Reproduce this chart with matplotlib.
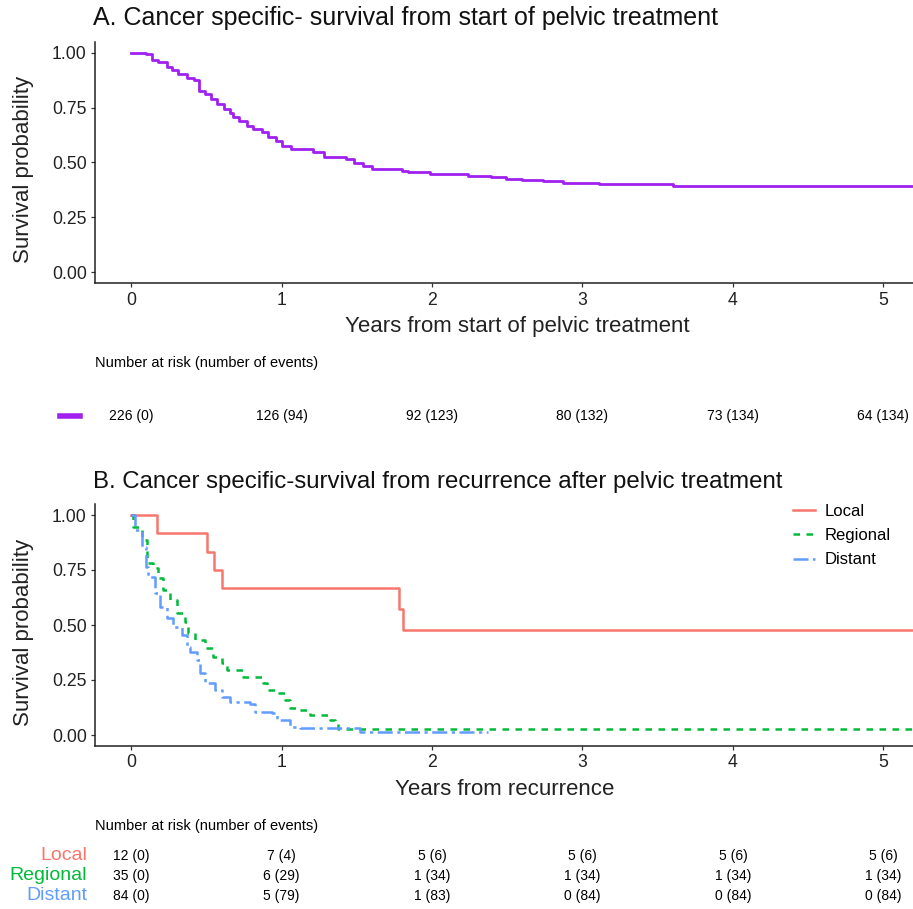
import matplotlib
matplotlib.use("Agg")
import matplotlib.pyplot as plt
import matplotlib.transforms as mtransforms

plt.rcParams["font.family"] = ["Liberation Sans", "DejaVu Sans"]

# ---- Panel A: survival from start of pelvic treatment ----
t_a = [0, 0.10, 0.14, 0.18, 0.24, 0.27, 0.31, 0.37, 0.42, 0.45, 0.49, 0.53, 0.57,
       0.62, 0.66, 0.68, 0.72, 0.77, 0.81, 0.87, 0.91, 0.96, 1.00, 1.06, 1.21, 1.28,
       1.43, 1.48, 1.54, 1.60, 1.80, 1.84, 1.99, 2.24, 2.39, 2.49, 2.60, 2.74, 2.87,
       3.11, 3.60, 5.40]
s_a = [1.0, 0.995, 0.966, 0.957, 0.936, 0.920, 0.905, 0.886, 0.876, 0.826, 0.811,
       0.788, 0.765, 0.742, 0.727, 0.705, 0.690, 0.667, 0.652, 0.641, 0.614, 0.599,
       0.576, 0.561, 0.546, 0.527, 0.515, 0.496, 0.485, 0.470, 0.462, 0.455, 0.447,
       0.440, 0.432, 0.427, 0.420, 0.414, 0.406, 0.400, 0.393, 0.393]

risk_times = [0, 1, 2, 3, 4, 5]
at_risk_a = [226, 126, 92, 80, 73, 64]
events_a = [0, 94, 123, 132, 134, 134]

# ---- Panel B: survival from recurrence, by recurrence site ----
t_local = [0, 0.175, 0.507, 0.551, 0.607, 1.783, 1.810, 5.40]
s_local = [1.0, 0.917, 0.833, 0.750, 0.667, 0.571, 0.476, 0.476]

t_regional = [0, 0.011, 0.071, 0.104, 0.148, 0.181, 0.215, 0.259, 0.303, 0.359,
              0.381, 0.425, 0.492, 0.547, 0.602, 0.636, 0.746, 0.879, 0.901, 0.957,
              1.023, 1.056, 1.123, 1.189, 1.322, 1.356, 1.378, 5.40]
s_regional = [1.0, 0.947, 0.886, 0.780, 0.758, 0.712, 0.659, 0.614, 0.553, 0.515,
              0.462, 0.432, 0.394, 0.356, 0.326, 0.295, 0.265, 0.235, 0.205, 0.189,
              0.159, 0.121, 0.114, 0.091, 0.068, 0.058, 0.029, 0.029]

t_distant = [0, 0.026, 0.071, 0.100, 0.115, 0.159, 0.193, 0.237, 0.281, 0.337,
             0.370, 0.392, 0.437, 0.458, 0.492, 0.558, 0.602, 0.658, 0.791, 0.824,
             0.935, 0.968, 1.056, 1.123, 1.520, 2.370]
s_distant = [1.0, 0.932, 0.856, 0.765, 0.720, 0.644, 0.583, 0.530, 0.492, 0.455,
             0.401, 0.379, 0.341, 0.280, 0.235, 0.205, 0.174, 0.152, 0.141, 0.106,
             0.101, 0.068, 0.038, 0.030, 0.015, 0.015]

groups = ["Local", "Regional", "Distant"]
at_risk_b = {"Local": [12, 7, 5, 5, 5, 5],
             "Regional": [35, 6, 1, 1, 1, 1],
             "Distant": [84, 5, 1, 0, 0, 0]}
events_b = {"Local": [0, 4, 6, 6, 6, 6],
            "Regional": [0, 29, 34, 34, 34, 34],
            "Distant": [0, 79, 83, 84, 84, 84]}

PURPLE = "#A020F0"
colors = {"Local": "#F8766D", "Regional": "#00BA38", "Distant": "#619CFF"}
dashes = {"Local": None, "Regional": (2.6, 2.6), "Distant": (6.0, 1.8, 1.3, 1.8)}

W, H = 913, 909
XLIM = (-0.24, 5.37)


def fy(px):
    return 1 - px / H


def style_axes(ax):
    ax.set_xlim(*XLIM)
    ax.set_ylim(-0.05, 1.05)
    ax.set_xticks(risk_times)
    ax.set_yticks([0, 0.25, 0.5, 0.75, 1.0])
    ax.set_yticklabels(["0.00", "0.25", "0.50", "0.75", "1.00"])
    for side in ("top", "right"):
        ax.spines[side].set_visible(False)
    for side in ("left", "bottom"):
        ax.spines[side].set_linewidth(1.1)
        ax.spines[side].set_color("#222222")
    ax.tick_params(direction="out", length=3, width=0.9, color="#333333",
                   labelsize=12.7, labelcolor="#222222", pad=3)
    ax.set_ylabel("Survival probability", fontsize=16, color="#222222")
    ax.yaxis.set_label_coords(-0.072, 0.47)


fig = plt.figure(figsize=(W / 100, H / 100), dpi=100)

# Panel A
ax_a = fig.add_axes([95 / W, fy(283.3), 844 / W, (283.3 - 41.7) / H])
ax_a.plot(t_a, s_a, drawstyle="steps-post", color=PURPLE, lw=2.0)
style_axes(ax_a)
ax_a.set_xlabel("Years from start of pelvic treatment", fontsize=16, color="#222222")
ax_a.xaxis.set_label_coords(0.5, -0.135)
fig.text(93 / W, fy(18), "A. Cancer specific- survival from start of pelvic treatment",
         fontsize=18, va="center", ha="left", color="#111111")

tr_a = mtransforms.blended_transform_factory(ax_a.transData, fig.transFigure)
fig.text(95 / W, fy(363), "Number at risk (number of events)", fontsize=10.5,
         va="center", ha="left")
for t, n, e in zip(risk_times, at_risk_a, events_a):
    ax_a.text(t, fy(416), f"{n} ({e})", transform=tr_a, fontsize=10,
              ha="center", va="center", clip_on=False)
fig.lines.append(plt.Line2D([60 / W, 80 / W], [fy(416), fy(416)], color=PURPLE,
                            lw=4, transform=fig.transFigure))

# Panel B
ax_b = fig.add_axes([95 / W, fy(746), 844 / W, (746 - 504) / H])
series_b = {"Local": (t_local, s_local), "Regional": (t_regional, s_regional),
            "Distant": (t_distant, s_distant)}
for g in groups:
    t, s = series_b[g]
    line, = ax_b.plot(t, s, drawstyle="steps-post", color=colors[g], lw=1.8, label=g)
    if dashes[g] is not None:
        line.set_dashes(dashes[g])
style_axes(ax_b)
ax_b.set_xlabel("Years from recurrence", fontsize=16, color="#222222")
ax_b.xaxis.set_label_coords(0.486, -0.135)
fig.text(93 / W, fy(482), "B. Cancer specific-survival from recurrence after pelvic treatment",
         fontsize=17.3, va="center", ha="left", color="#111111")
ax_b.legend(loc="upper left", bbox_to_anchor=(793 / W, fy(504)),
            bbox_transform=fig.transFigure, frameon=False, fontsize=12,
            handlelength=1.3, handletextpad=0.6, labelspacing=0.55, borderpad=0,
            borderaxespad=0)

tr_b = mtransforms.blended_transform_factory(ax_b.transData, fig.transFigure)
fig.text(95 / W, fy(826), "Number at risk (number of events)", fontsize=10.5,
         va="center", ha="left")
row_y = {"Local": 856, "Regional": 876, "Distant": 896}
for g in groups:
    fig.text(87 / W, fy(row_y[g]), g, color=colors[g], fontsize=14,
             ha="right", va="center")
    for t, n, e in zip(risk_times, at_risk_b[g], events_b[g]):
        ax_b.text(t, fy(row_y[g]), f"{n} ({e})", transform=tr_b, fontsize=10,
                  ha="center", va="center", clip_on=False)

fig.savefig("out.png", dpi=100)
